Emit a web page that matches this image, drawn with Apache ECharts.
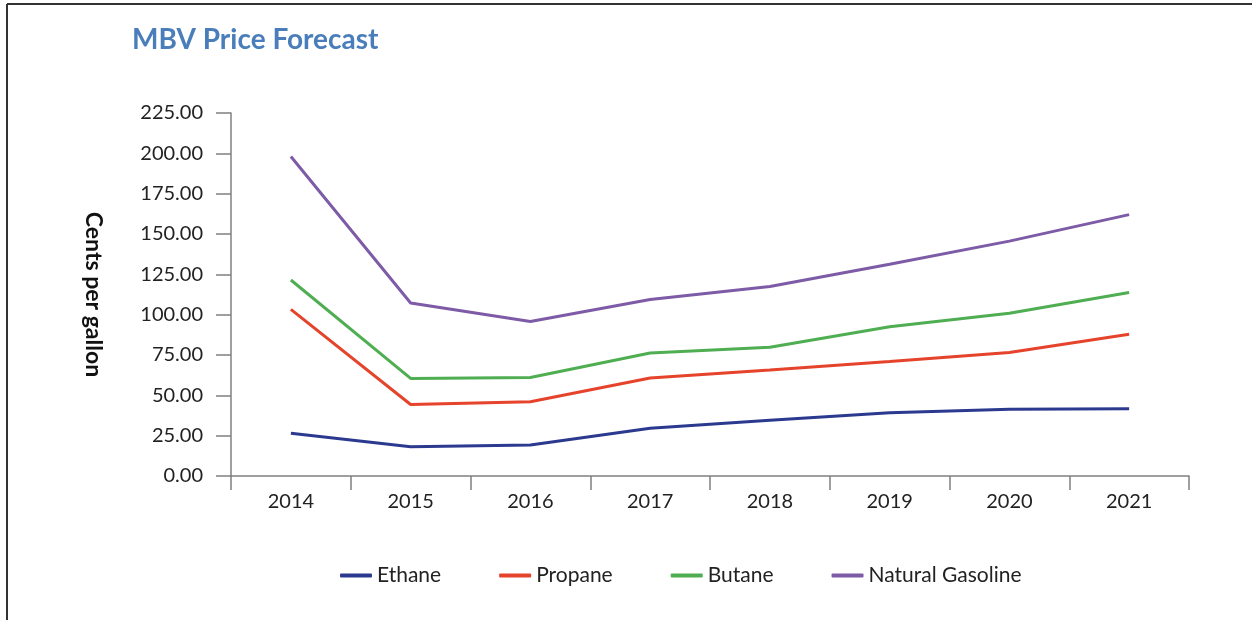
<!DOCTYPE html>
<html>
<head>
<meta charset="utf-8">
<script src="https://cdn.jsdelivr.net/npm/echarts@6/dist/echarts.min.js"></script>
<style>
  html, body { margin: 0; padding: 0; background: #fff; }
  #chart { width: 1252px; height: 620px; }
</style>
</head>
<body>
<div id="chart"></div>
<script>
const years = ['2014', '2015', '2016', '2017', '2018', '2019', '2020', '2021'];
const ethane = [26.5, 18.2, 19.2, 29.6, 34.5, 39.2, 41.3, 41.7];
const propane = [103.3, 44.3, 46.0, 60.7, 65.7, 70.9, 76.6, 87.8];
const butane = [121.5, 60.5, 61.0, 76.2, 79.8, 92.5, 100.9, 113.8];
const natGas = [198.0, 107.2, 95.8, 109.4, 117.4, 131.2, 145.6, 162.0];
const yTicks = { min: 0, max: 225, step: 25 };

const font = 'Lato';
const axisGray = '#808080';

const chart = echarts.init(document.getElementById('chart'));

function line(name, data, color) {
  return {
    name: name,
    type: 'line',
    data: data,
    symbol: 'none',
    lineStyle: { color: color, width: 3 },
    itemStyle: { color: color }
  };
}

chart.setOption({
  animation: false,
  backgroundColor: '#fff',
  textStyle: { fontFamily: font },
  title: {
    text: 'MBV Price Forecast',
    left: 127,
    top: 21,
    textStyle: { color: '#4a7ebb', fontSize: 28, fontWeight: 'bold', fontFamily: font }
  },
  graphic: [
    { type: 'line', shape: { x1: 7, y1: 4, x2: 1252, y2: 4 }, style: { stroke: '#333', lineWidth: 2 } },
    { type: 'line', shape: { x1: 7, y1: 4, x2: 7, y2: 620 }, style: { stroke: '#333', lineWidth: 2 } }
  ],
  legend: {
    left: 335,
    top: 560,
    itemGap: 58,
    itemWidth: 32,
    itemHeight: 4,
    icon: 'roundRect',
    textStyle: { fontSize: 21, color: '#222', fontFamily: font },
    data: ['Ethane', 'Propane', 'Butane', 'Natural Gasoline']
  },
  grid: { left: 231, right: 63, top: 113, bottom: 144, containLabel: false },
  xAxis: {
    type: 'category',
    data: years,
    boundaryGap: true,
    axisLine: { lineStyle: { color: axisGray, width: 1.5 } },
    axisTick: { show: true, length: 14, lineStyle: { color: axisGray, width: 1.5 } },
    axisLabel: { fontSize: 20, color: '#222', margin: 16 },
    splitLine: { show: false }
  },
  yAxis: {
    type: 'value',
    min: yTicks.min,
    max: yTicks.max,
    interval: yTicks.step,
    name: 'Cents per gallon',
    nameLocation: 'middle',
    nameRotate: -90,
    nameGap: 126,
    nameTextStyle: { fontSize: 23, fontWeight: 'bold', color: '#111' },
    axisLine: { show: true, lineStyle: { color: axisGray, width: 1.5 } },
    axisTick: { show: true, length: 15, lineStyle: { color: axisGray, width: 1.5 } },
    axisLabel: { fontSize: 20, color: '#222', margin: 28, formatter: v => v.toFixed(2) },
    splitLine: { show: false }
  },
  series: [
    line('Ethane', ethane, '#2b3a8f'),
    line('Propane', propane, '#e5432b'),
    line('Butane', butane, '#4fae52'),
    line('Natural Gasoline', natGas, '#7d5ba6')
  ]
});
</script>
</body>
</html>
